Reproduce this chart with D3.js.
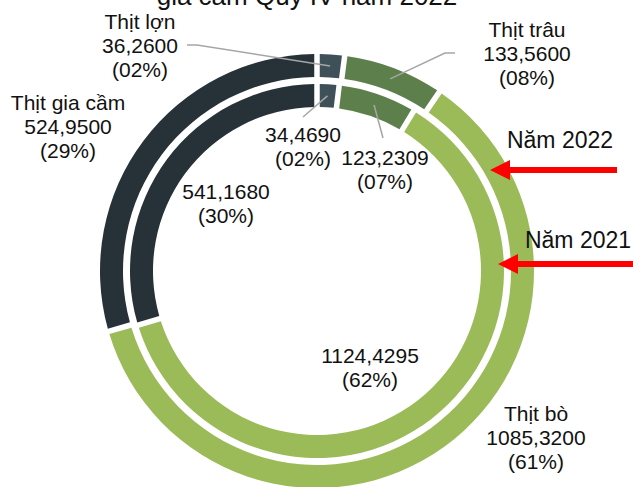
<!DOCTYPE html>
<html>
<head>
<meta charset="utf-8">
<script src="https://cdn.jsdelivr.net/npm/d3@7"></script>
<style>
  body { margin: 0; background: #fff; }
  text { font-family: "Liberation Sans", Arial, sans-serif; fill: #111; }
</style>
</head>
<body>
<div id="graphic"></div>
<script>
var categories = ["Thịt lợn", "Thịt trâu", "Thịt bò", "Thịt gia cầm"];
var values2022 = [36.26, 133.56, 1085.32, 524.95];
var values2021 = [34.469, 123.2309, 1124.4295, 541.168];
var seriesNames = ["Năm 2022", "Năm 2021"];
var titleText = "gia cầm Quý IV năm 2022";

var width = 633,
    height = 487;

var cx = 317, cy = 271;
var lineH = 24;

var color = d3.scaleOrdinal()
    .domain(categories)
    .range(["#3e5159", "#5d7f4b", "#9bbb59", "#263238"]);

// ring radii: outer ring = 2022, inner ring = 2021
var rings = [
  { values: values2022, inner: 194, outer: 217 },
  { values: values2021, inner: 164, outer: 187 }
];

// label layout per ring, same order as categories
var labelLayout = [
  [ { x: 140, y: 29, showName: true, leader: [[187, 45], [197, 45]] },
    { x: 527, y: 37, showName: true, leader: [[455, 53], [445, 53]] },
    { x: 536, y: 421, showName: true },
    { x: 68, y: 110, showName: true } ],
  [ { x: 303, y: 142, leader: [[303, 117]] },
    { x: 385, y: 165, leader: [[383, 138]] },
    { x: 370, y: 363 },
    { x: 226, y: 199 } ]
];

var arrowLayout = [
  { tx: 560, ty: 148, x0: 617, x1: 490, y: 170 },
  { tx: 578, ty: 248, x0: 640, x1: 498, y: 264 }
];

var locale = d3.formatLocale({ decimal: ",", thousands: ".", grouping: [3], currency: ["", ""] });
var fmtVal = locale.format(".4f");
var fmtPct = d3.format("02d");

var svg = d3.select("#graphic")
    .append("svg")
    .attr("width", width)
    .attr("height", height);

svg.append("text")
    .attr("x", 307)
    .attr("y", 5)
    .attr("text-anchor", "middle")
    .style("font-size", "26px")
    .text(titleText);

var pie = d3.pie().sort(null).value(function(d) { return d; });

var chart = svg.append("g")
    .attr("transform", "translate(" + cx + "," + cy + ")");

rings.forEach(function(ring, ri) {
  var arcs = pie(ring.values);
  var total = d3.sum(ring.values);
  var arc = d3.arc()
      .innerRadius(ring.inner)
      .outerRadius(ring.outer)
      .padRadius(100)
      .padAngle(0.055);

  chart.append("g").selectAll("path")
      .data(arcs)
      .enter().append("path")
      .attr("fill", function(d, i) { return color(categories[i]); })
      .attr("d", arc);

  var labels = svg.append("g");
  arcs.forEach(function(d, i) {
    var L = labelLayout[ri][i];
    var lines = [];
    if (L.showName) lines.push(categories[i]);
    lines.push(fmtVal(d.value));
    lines.push("(" + fmtPct(Math.round(d.value / total * 100)) + "%)");

    var t = labels.append("text")
        .attr("text-anchor", "middle")
        .style("font-size", "21px");
    lines.forEach(function(s, k) {
      t.append("tspan")
          .attr("x", L.x)
          .attr("y", L.y + k * lineH)
          .text(s);
    });

    if (L.leader) {
      var c = arc.centroid(d);
      var pts = L.leader.concat([[c[0] + cx, c[1] + cy]]);
      svg.append("path")
          .attr("d", d3.line()(pts))
          .attr("fill", "none")
          .attr("stroke", "#a6a6a6")
          .attr("stroke-width", 1.5);
    }
  });
});

// series arrows
arrowLayout.forEach(function(a, i) {
  svg.append("text")
      .attr("x", a.tx)
      .attr("y", a.ty)
      .attr("text-anchor", "middle")
      .style("font-size", "23px")
      .text(seriesNames[i]);

  var head = 20, half = 10, shaft = 3;
  var p = d3.path();
  p.moveTo(a.x1, a.y);
  p.lineTo(a.x1 + head, a.y - half);
  p.lineTo(a.x1 + head, a.y - shaft);
  p.lineTo(a.x0, a.y - shaft);
  p.lineTo(a.x0, a.y + shaft);
  p.lineTo(a.x1 + head, a.y + shaft);
  p.lineTo(a.x1 + head, a.y + half);
  p.closePath();
  svg.append("path")
      .attr("d", p.toString())
      .attr("fill", "#ff0000");
});
</script>
</body>
</html>
